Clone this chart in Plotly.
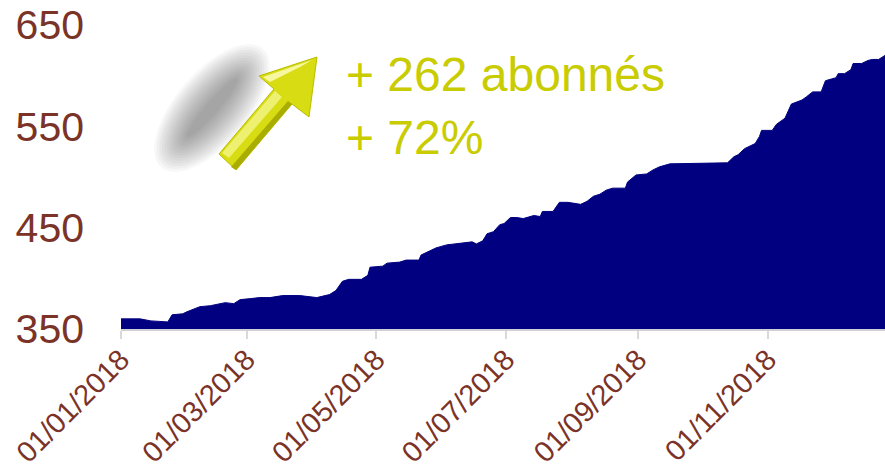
import numpy as np
import plotly.graph_objects as go

# ---- data ----
dates = [
    "2018-01-01", "2018-01-10", "2018-01-15", "2018-01-23", "2018-01-25", "2018-01-30",
    "2018-02-01", "2018-02-05", "2018-02-07", "2018-02-12", "2018-02-19", "2018-02-23",
    "2018-02-26", "2018-03-03", "2018-03-07", "2018-03-12", "2018-03-18", "2018-03-26",
    "2018-03-30", "2018-04-03", "2018-04-09", "2018-04-11", "2018-04-12", "2018-04-15",
    "2018-04-18", "2018-04-24", "2018-04-27", "2018-04-28", "2018-05-04", "2018-05-06",
    "2018-05-12", "2018-05-15", "2018-05-21", "2018-05-22", "2018-05-25", "2018-05-29",
    "2018-06-03", "2018-06-11", "2018-06-15", "2018-06-17", "2018-06-20", "2018-06-22",
    "2018-06-25", "2018-06-28", "2018-06-30", "2018-07-03", "2018-07-06", "2018-07-09",
    "2018-07-14", "2018-07-17", "2018-07-18", "2018-07-23", "2018-07-26", "2018-07-30",
    "2018-08-05", "2018-08-08", "2018-08-11", "2018-08-14", "2018-08-17", "2018-08-20",
    "2018-08-26", "2018-08-27", "2018-08-31", "2018-09-05", "2018-09-08", "2018-09-11",
    "2018-09-16", "2018-10-13", "2018-10-16", "2018-10-18", "2018-10-21", "2018-10-26",
    "2018-10-28", "2018-10-29", "2018-11-03", "2018-11-05", "2018-11-09", "2018-11-12",
    "2018-11-17", "2018-11-19", "2018-11-22", "2018-11-26", "2018-11-28", "2018-12-03",
    "2018-12-04", "2018-12-07", "2018-12-10", "2018-12-11", "2018-12-15", "2018-12-18",
    "2018-12-20", "2018-12-23", "2018-12-26",
]
abonnes = [
    360, 360, 358, 357, 364, 365,
    367, 370, 372, 373, 376, 375,
    379, 380, 381, 381, 383, 383,
    382, 381, 384, 387, 388, 397,
    399, 399, 403, 411, 412, 415,
    416, 418, 418, 423, 426, 430,
    433, 435, 436, 434, 437, 444,
    446, 453, 454, 460, 460, 459,
    462, 461, 466, 466, 475, 475,
    473, 476, 481, 483, 487, 489,
    489, 495, 502, 503, 507, 510,
    513, 514, 520, 522, 528, 533,
    540, 546, 546, 552, 558, 572,
    576, 579, 584, 584, 595, 598,
    602, 602, 606, 612, 612, 615,
    616, 616, 620,
]

x_tick_vals = ["2018-01-01", "2018-03-01", "2018-05-01", "2018-07-01", "2018-09-01", "2018-11-01"]
x_tick_text = ["01/01/2018", "01/03/2018", "01/05/2018", "01/07/2018", "01/09/2018", "01/11/2018"]
y_tick_vals = [350, 450, 550, 650]
x_range = ["2018-01-01", "2018-12-26"]
y_range = [350, 650]

annot_lines = ["+ 262 abonnés", "+ 72%"]

# ---- layout constants ----
W, H = 885, 467
ML, MR, MT, MB = 121, 0, 25, 138
PW, PH = W - ML - MR, H - MT - MB
BROWN = "#7b3328"
NAVY = "#000080"
LIME = "#c8cc00"
FONT = "Liberation Sans, Arial, sans-serif"


def px(x, y):
    """window pixel -> paper coordinates"""
    return (x - ML) / PW, (H - MB - y) / PH


def path_from(points):
    pts = [px(x, y) for x, y in points]
    return "M " + " L ".join(f"{a:.5f},{b:.5f}" for a, b in pts) + " Z"


fig = go.Figure()
fig.add_trace(go.Scatter(
    x=dates, y=abonnes, mode="lines", fill="tozeroy",
    line=dict(color=NAVY, width=1), fillcolor=NAVY, hoverinfo="skip",
))

shapes = []
# blurred shadow (rotated ellipses)
cx, cy = 212, 108
ux, uy = 0.652, -0.761
vx, vy = 0.761, 0.652
t = np.linspace(0, 2 * np.pi, 48)
n = 14
for k in range(n):
    f = k / (n - 1)
    a = 78 - 40 * f
    b = 36 - 30 * f
    pts = [(cx + a * np.cos(s) * ux + b * np.sin(s) * vx, cy + a * np.cos(s) * uy + b * np.sin(s) * vy) for s in t]
    shapes.append(dict(type="path", xref="paper", yref="paper", path=path_from(pts),
                       fillcolor="rgba(80,80,80,0.045)", line=dict(width=0), layer="above"))

# arrow
T = (317, 57)
HL = (259, 76)
SL = (274, 89)
TL = (219, 154)
TR = (236, 170)
SR = (292, 104)
HR = (309, 117)
arrow = [T, HL, SL, TL, TR, SR, HR]
shapes.append(dict(type="path", xref="paper", yref="paper", path=path_from(arrow),
                   fillcolor="#d8dc12", line=dict(color="#b9bc00", width=1), layer="above"))
# bevel highlights
shapes.append(dict(type="path", xref="paper", yref="paper",
                   path=path_from([(263, 77), (312, 60), (300, 67), (270, 82)]),
                   fillcolor="#f7f7a0", line=dict(width=0), layer="above"))
shapes.append(dict(type="path", xref="paper", yref="paper",
                   path=path_from([(275, 91), (282, 97), (229, 158), (222, 153)]),
                   fillcolor="#eef070", line=dict(width=0), layer="above"))
shapes.append(dict(type="path", xref="paper", yref="paper",
                   path=path_from([(236, 170), (292, 104), (288, 101), (231, 167)]),
                   fillcolor="#a9ad00", line=dict(width=0), layer="above"))

annotations = []
for i, txt in enumerate(annot_lines):
    ax, ay = px(344, 74 + i * 63)
    annotations.append(dict(x=ax, y=ay, xref="paper", yref="paper", text=txt, showarrow=False,
                            xanchor="left", yanchor="middle",
                            font=dict(family=FONT, size=48, color=LIME)))

fig.update_layout(
    width=W, height=H,
    margin=dict(l=ML, r=MR, t=MT, b=MB, pad=0, autoexpand=False),
    paper_bgcolor="white", plot_bgcolor="white",
    showlegend=False,
    hovermode=False,
    shapes=shapes,
    annotations=annotations,
    xaxis=dict(
        type="date", range=x_range, tickvals=x_tick_vals, ticktext=x_tick_text,
        tickangle=-45, tickfont=dict(family=FONT, size=29, color=BROWN),
        showgrid=False, zeroline=False, showline=True, linecolor="#d0d0d8", linewidth=2,
        ticks="outside", ticklen=8, tickwidth=2, tickcolor="#d9d9d9",
        automargin=False, ticklabeloverflow="allow", ticklabelstandoff=-8,
    ),
    yaxis=dict(
        range=y_range, tickvals=y_tick_vals,
        tickfont=dict(family=FONT, size=41, color=BROWN),
        showgrid=False, zeroline=False, showline=False, ticks="",
        ticklabelstandoff=36, automargin=False, ticklabeloverflow="allow",
    ),
)

fig.write_html(
    "out.html",
    config={"displayModeBar": False},
    post_script="document.body.style.margin='0';document.body.style.overflow='hidden';",
)
